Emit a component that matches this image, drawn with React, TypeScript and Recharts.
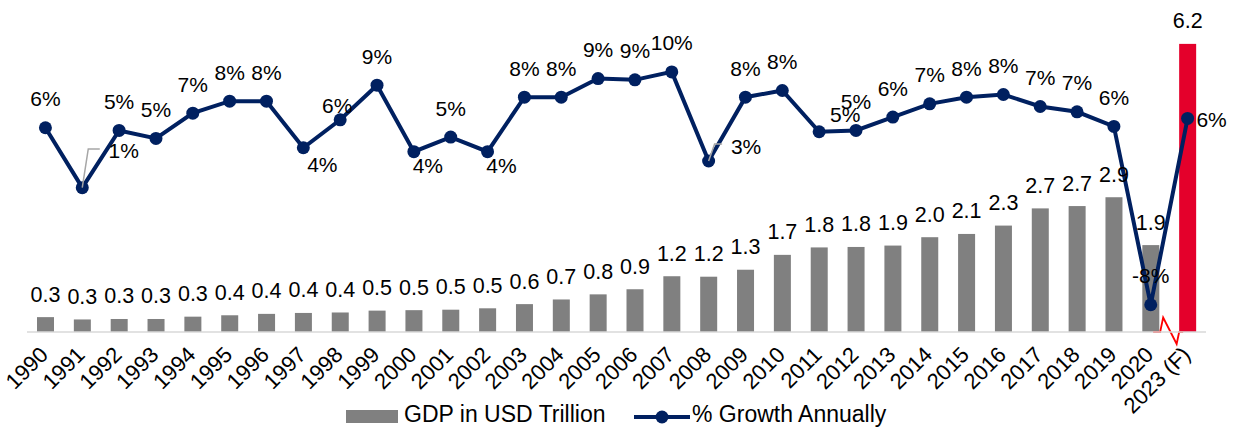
import React from 'react';
import { ComposedChart, Bar, Line, XAxis, YAxis, Cell, LabelList } from 'recharts';

const years = [
  '1990', '1991', '1992', '1993', '1994', '1995', '1996', '1997', '1998', '1999',
  '2000', '2001', '2002', '2003', '2004', '2005', '2006', '2007', '2008', '2009',
  '2010', '2011', '2012', '2013', '2014', '2015', '2016', '2017', '2018', '2019',
  '2020', '2023 (F)',
];

const gdpTrillion = [
  0.32, 0.27, 0.28, 0.28, 0.33, 0.36, 0.39, 0.41, 0.42, 0.46,
  0.47, 0.48, 0.51, 0.6, 0.7, 0.81, 0.92, 1.2, 1.19, 1.34,
  1.66, 1.82, 1.83, 1.86, 2.04, 2.11, 2.29, 2.66, 2.71, 2.9,
  1.87, 6.2,
];

const growthPct = [
  5.6, 1.1, 5.4, 4.8, 6.7, 7.6, 7.6, 4.1, 6.2, 8.8,
  3.8, 4.9, 3.8, 7.9, 7.9, 9.3, 9.2, 9.8, 3.1, 7.9,
  8.4, 5.3, 5.4, 6.4, 7.4, 7.9, 8.1, 7.2, 6.8, 5.7,
  -7.7, 6.3,
];

const seriesNames = ['GDP in USD Trillion', '% Growth Annually'];

// label placement (style only)
const growthLabelOffsets: Record<string, { dx: number; dy: number; leader?: boolean }> = {
  '1991': { dx: 41.5, dy: -36.7, leader: true },
  '1997': { dx: 19, dy: 17 },
  '1998': { dx: -3, dy: -14 },
  '2000': { dx: 14, dy: 14 },
  '2002': { dx: 14, dy: 14 },
  '2008': { dx: 37.5, dy: -15, leader: true },
  '2011': { dx: 26, dy: -17 },
  '2023 (F)': { dx: 24, dy: 1 },
};

const data = years.map((y, i) => ({ year: y, gdp: gdpTrillion[i], growth: growthPct[i] }));

const FONT = '"Liberation Sans", Arial, sans-serif';
const NAVY = '#002060';
const GRAY = '#808080';
const RED = '#E4002B';

const YearTick = (props: any) => {
  const { x, y, payload } = props;
  const ax = x + 4;
  const ay = y + 24;
  return (
    <text
      x={ax}
      y={ay}
      transform={`rotate(-45 ${ax} ${ay})`}
      textAnchor="end"
      fontSize={22}
      fontFamily={FONT}
      fill="#000"
    >
      {payload.value}
    </text>
  );
};

const BarShape = (props: any) => {
  const { x, y, width, height, fill, index } = props;
  const isLast = index === years.length - 1;
  const yb = y + height;
  const pts = [
    [x - 26, yb],
    [x - 19, yb],
    [x - 16, yb - 14.5],
    [x - 2.5, yb + 12],
    [x, yb],
    [x + 4, yb],
  ]
    .map((p) => p.join(','))
    .join(' ');
  return (
    <g>
      <rect x={x} y={y} width={width} height={height} fill={fill} />
      {isLast && <polyline points={pts} fill="none" stroke="#FF0000" strokeWidth={1.8} />}
    </g>
  );
};

const BarValueLabel = (props: any) => {
  const { x, y, width, value } = props;
  return (
    <text
      x={x + width / 2}
      y={y - 15.5}
      textAnchor="middle"
      fontSize={21.5}
      fontFamily={FONT}
      fill="#000"
    >
      {Number(value).toFixed(1)}
    </text>
  );
};

const GrowthLabel = (props: any) => {
  const { x, y, value, index } = props;
  const off = growthLabelOffsets[years[index]] || { dx: 0, dy: -29 };
  const cx = x + off.dx;
  const cy = y + off.dy;
  return (
    <g>
      {off.leader && (
        <polyline
          points={`${x},${y} ${x + 6},${cy - 2} ${cx - 24},${cy - 2}`}
          fill="none"
          stroke="#A6A6A6"
          strokeWidth={1.5}
        />
      )}
      <text
        x={cx}
        y={cy + 7.5}
        textAnchor="middle"
        fontSize={21}
        fontFamily={FONT}
        fill="#000"
      >
        {`${Math.round(Number(value))}%`}
      </text>
    </g>
  );
};

const LegendOverlay = () => (
  <svg
    width={1234}
    height={427}
    style={{ position: 'absolute', left: 0, top: 0, pointerEvents: 'none' }}
  >
    <rect x={346} y={410} width={52} height={13} fill={GRAY} />
    <text x={404} y={422} fontSize={23} fontFamily={FONT} fill="#000">
      {seriesNames[0]}
    </text>
    <line x1={634} y1={417} x2={690} y2={417} stroke={NAVY} strokeWidth={4} />
    <circle cx={662} cy={417} r={6.5} fill={NAVY} />
    <text x={692} y={422} fontSize={23} fontFamily={FONT} fill="#000">
      {seriesNames[1]}
    </text>
  </svg>
);

export default function App() {
  return (
    <div style={{ position: 'absolute', left: 0, top: 0, width: 1234, height: 427, background: '#fff' }}>
      <ComposedChart
        width={1234}
        height={427}
        data={data}
        margin={{ top: 16, right: 28, bottom: 0, left: 27 }}
      >
        <XAxis
          dataKey="year"
          interval={0}
          tickLine={false}
          tickSize={0}
          tickMargin={0}
          height={95}
          axisLine={{ stroke: '#D9D9D9', strokeWidth: 1.5 }}
          tick={<YearTick />}
        />
        <YAxis yAxisId="gdp" hide domain={[0, 6.8]} />
        <YAxis yAxisId="growth" hide orientation="right" domain={[-9.75, 14]} />
        <Bar
          yAxisId="gdp"
          dataKey="gdp"
          name={seriesNames[0]}
          barSize={17}
          isAnimationActive={false}
          shape={<BarShape />}
        >
          {data.map((d, i) => (
            <Cell key={d.year} fill={i === data.length - 1 ? RED : GRAY} />
          ))}
          <LabelList dataKey="gdp" content={<BarValueLabel />} />
        </Bar>
        <Line
          yAxisId="growth"
          dataKey="growth"
          name={seriesNames[1]}
          stroke={NAVY}
          strokeWidth={4}
          dot={{ r: 6.5, fill: NAVY, stroke: 'none' }}
          activeDot={false}
          isAnimationActive={false}
        >
          <LabelList dataKey="growth" content={<GrowthLabel />} />
        </Line>
      </ComposedChart>
      <LegendOverlay />
    </div>
  );
}
